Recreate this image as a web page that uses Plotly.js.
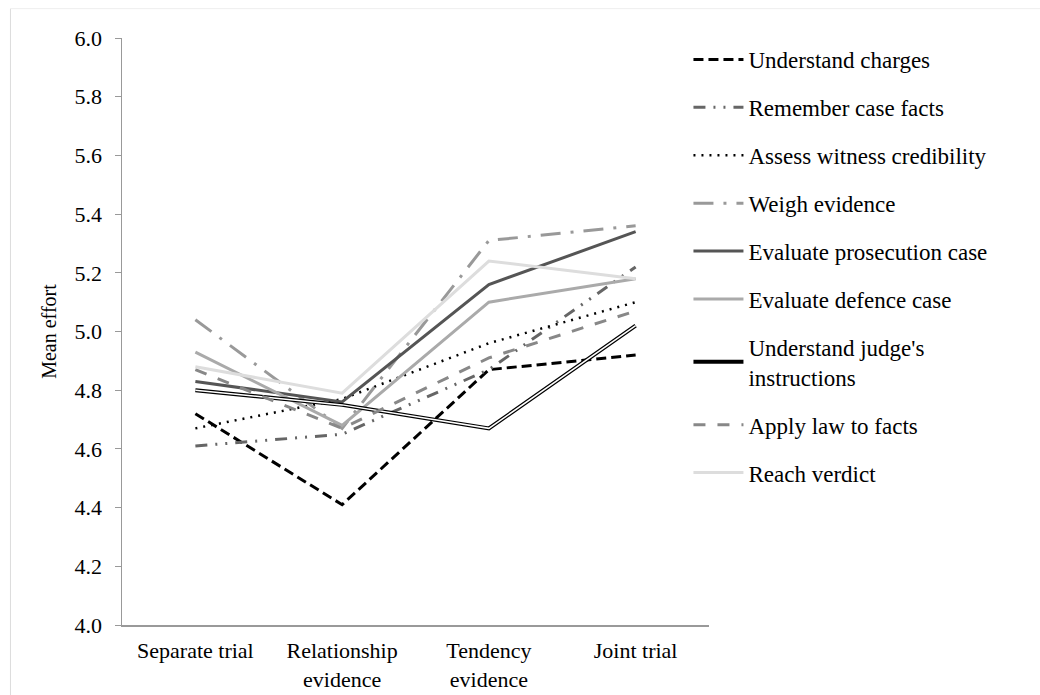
<!DOCTYPE html>
<html>
<head>
<meta charset="utf-8">
<script src="https://cdn.plot.ly/plotly-3.0.1.min.js"></script>
<style>html,body{margin:0;padding:0;background:#fff;}#chart{width:1040px;height:695px;}</style>
</head>
<body>
<div id="chart"></div>
<script>
const categories = ["Separate trial", "Relationship<br>evidence", "Tendency<br>evidence", "Joint trial"];
const understandCharges = [4.72, 4.41, 4.87, 4.92];
const rememberFacts = [4.61, 4.65, 4.87, 5.22];
const assessCredibility = [4.67, 4.77, 4.96, 5.10];
const weighEvidence = [5.04, 4.67, 5.31, 5.36];
const evalProsecution = [4.83, 4.76, 5.16, 5.34];
const evalDefence = [4.93, 4.68, 5.10, 5.18];
const judgeInstructions = [4.80, 4.75, 4.67, 5.02];
const applyLaw = [4.87, 4.67, 4.91, 5.07];
const reachVerdict = [4.88, 4.79, 5.24, 5.18];
const yTicks = [4.0, 4.2, 4.4, 4.6, 4.8, 5.0, 5.2, 5.4, 5.6, 5.8, 6.0];

function tr(name, y, color, width, dash, group, showlegend) {
  return {x: categories, y: y, type: 'scatter', mode: 'lines', name: name,
    legendgroup: group, showlegend: showlegend !== false, hoverinfo: 'skip',
    line: {color: color, width: width, dash: dash}};
}
const traces = [
  tr("Understand charges", understandCharges, "#000000", 3, "10px,5px", "g1"),
  tr("Remember case facts", rememberFacts, "#666666", 3, "12px,8px,2px,8px,2px,8px", "g2"),
  tr("Assess witness credibility", assessCredibility, "#000000", 2.5, "2px,6px", "g3"),
  tr("Weigh evidence", weighEvidence, "#999999", 3, "20px,10px,3px,10px", "g4"),
  tr("Evaluate prosecution case", evalProsecution, "#555555", 3, "solid", "g5"),
  tr("Evaluate defence case", evalDefence, "#aaaaaa", 3, "solid", "g6"),
  tr("Understand judge's<br>instructions", judgeInstructions, "#000000", 4, "solid", "g7"),
  tr("inner", judgeInstructions, "#ffffff", 1.5, "solid", "g7", false),
  tr("Apply law to facts", applyLaw, "#888888", 3, "12px,12px", "g8"),
  tr("Reach verdict", reachVerdict, "#dddddd", 3, "solid", "g9")
];

const fam = "Liberation Serif, Times New Roman, serif";
const font = {family: fam, color: "#000", size: 22};
const layout = {
  width: 1040, height: 695,
  margin: {l: 122, r: 331, t: 38, b: 70},
  paper_bgcolor: "#fff", plot_bgcolor: "#fff",
  font: font,
  showlegend: true,
  legend: {x: 0.965, xanchor: 'left', y: 1.0, yanchor: 'top', xref: 'paper',
    font: {family: fam, size: 23, color: "#000"}, maxheight: 680,
    tracegroupgap: 15, itemwidth: 50, bgcolor: 'rgba(0,0,0,0)'},
  xaxis: {type: 'category', range: [-0.5, 3.5], showgrid: false, zeroline: false,
    showline: true, linecolor: "#999", linewidth: 1.5, ticks: "", ticklabelstandoff: 5,
    tickfont: {family: fam, size: 22, color: "#000"}, fixedrange: true},
  yaxis: {range: [4.0, 6.0], tickvals: yTicks, ticktext: yTicks.map(v => v.toFixed(1)),
    showgrid: false, zeroline: false, showline: true, linecolor: "#999", linewidth: 1.5,
    ticks: "outside", ticklen: 6, tickcolor: "#999", ticklabelstandoff: 8, tickfont: {family: fam, size: 22, color: "#000"},
    title: {text: "Mean effort", font: {family: fam, size: 20, color: "#000"}, standoff: 12}},
  shapes: [
    {type: 'line', xref: 'paper', yref: 'paper', x0: -0.19, x1: -0.19, y0: -0.13, y1: 1.05, line: {color: '#dddddd', width: 1}},
    {type: 'line', xref: 'paper', yref: 'paper', x0: -0.19, x1: 1.57, y0: 1.05, y1: 1.05, line: {color: '#eeeeee', width: 1}}
  ]
};
Plotly.newPlot('chart', traces, layout, {displayModeBar: false, staticPlot: true});
</script>
</body>
</html>
